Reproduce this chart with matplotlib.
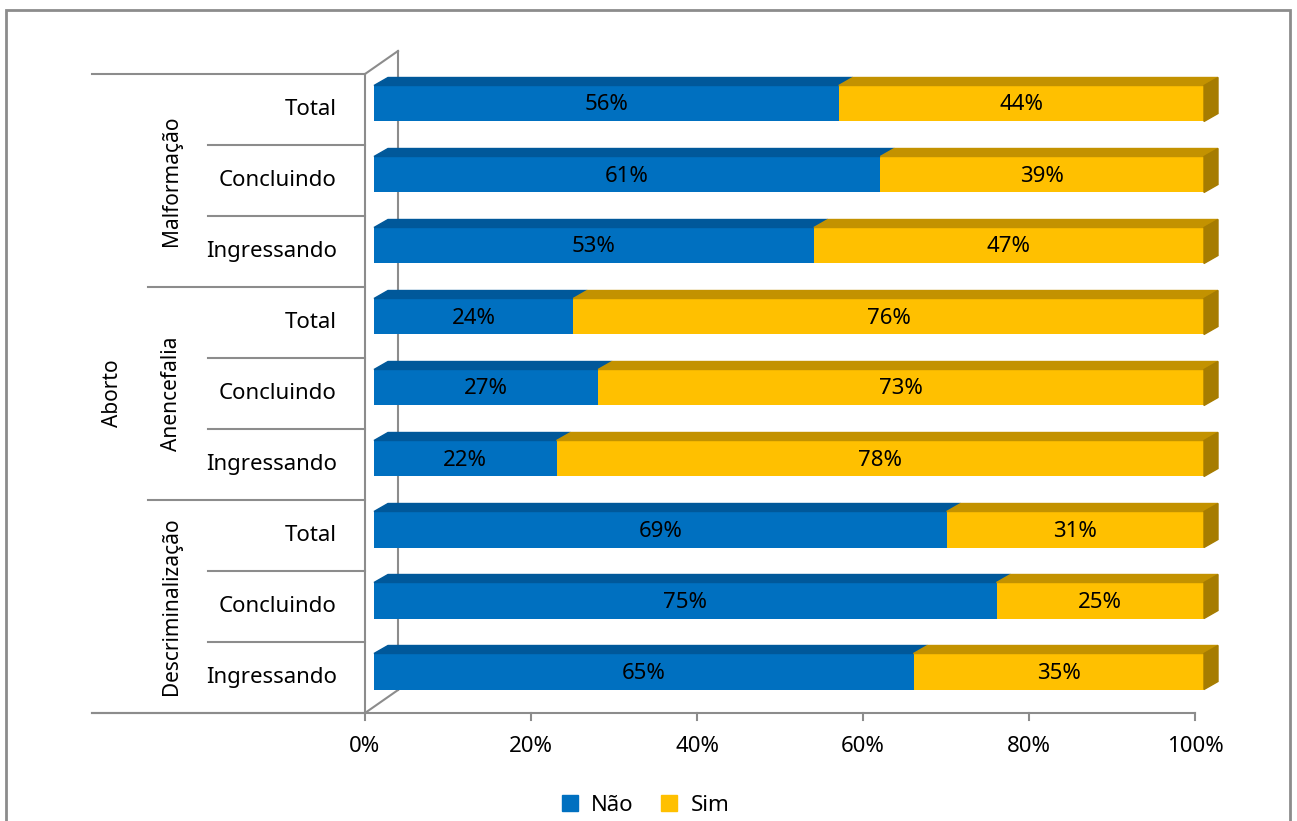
import matplotlib.pyplot as plt
from matplotlib.patches import Polygon, Rectangle
from matplotlib.lines import Line2D

# dados (de baixo para cima)
grupos = ["Descriminalização", "Anencefalia", "Malformação"]
subgrupos = ["Ingressando", "Concluindo", "Total"]
nao = [65, 75, 69, 22, 27, 24, 53, 61, 56]
sim = [35, 25, 31, 78, 73, 76, 47, 39, 44]
ticks = [0, 20, 40, 60, 80, 100]

azul = "#0070C0"
azul_topo = "#00589A"
amarelo = "#FFC000"
amarelo_topo = "#C39200"
amarelo_lado = "#A67C00"
cinza = "#8C8C8C"

plt.rcParams['font.family'] = ['Noto Sans', 'DejaVu Sans']
fs = 16

W, H = 1297, 821
fig = plt.figure(figsize=(W / 100, H / 100), dpi=100)
ax = fig.add_axes([365 / W, (H - 713) / H, 830 / W, 639 / H])
ax.set_xlim(0, 100)
ax.set_ylim(-0.5, 8.5)
ax.axis('off')

# conversao pixel -> unidades de dados
px_x = 100 / 830
px_y = 9 / 639

# parede do fundo (efeito 3D)
Dx, Dy = 33 * px_x, 23 * px_y
ax.plot([0, Dx], [8.5, 8.5 + Dy], color=cinza, lw=1.5, clip_on=False)
ax.plot([Dx, Dx], [8.5 + Dy, -0.5 + Dy], color=cinza, lw=1.5, clip_on=False)
ax.plot([0, Dx], [-0.5, -0.5 + Dy], color=cinza, lw=1.5, clip_on=False)

# barras 3D
off_x, off_y = 9 * px_x, 6 * px_y
dx, dy = 14 * px_x, 8 * px_y
h = 36 * px_y
ys = list(range(len(nao)))
ax.barh([y + off_y for y in ys], nao, height=h, left=off_x, color=azul, zorder=3,
        clip_on=False)
ax.barh([y + off_y for y in ys], sim, height=h, left=[off_x + v for v in nao],
        color=amarelo, zorder=3, clip_on=False)

for y, n, s in zip(ys, nao, sim):
    yt = y + off_y + h / 2
    yb = y + off_y - h / 2
    x0, x1, x2 = off_x, off_x + n, off_x + n + s
    ax.add_patch(Polygon([(x0, yt), (x1, yt), (x1 + dx, yt + dy), (x0 + dx, yt + dy)],
                         closed=True, color=azul_topo, zorder=3, clip_on=False))
    ax.add_patch(Polygon([(x1, yt), (x2, yt), (x2 + dx, yt + dy), (x1 + dx, yt + dy)],
                         closed=True, color=amarelo_topo, zorder=3, clip_on=False))
    ax.add_patch(Polygon([(x2, yb), (x2, yt), (x2 + dx, yt + dy), (x2 + dx, yb + dy)],
                         closed=True, color=amarelo_lado, zorder=3, clip_on=False))
    ax.text(x0 + n / 2, y + off_y - 1.5 * px_y, f"{n}%", ha='center', va='center',
            fontsize=fs, zorder=4)
    ax.text(x1 + s / 2, y + off_y - 1.5 * px_y, f"{s}%", ha='center', va='center',
            fontsize=fs, zorder=4)

# eixos da frente
ax.plot([0, 0], [-0.5, 8.5], color=cinza, lw=1.5, clip_on=False)
ax.plot([(92 - 365) * px_x, 100], [-0.5, -0.5], color=cinza, lw=1.5, clip_on=False)
for t in ticks:
    ax.plot([t, t], [-0.5, -0.5 - 7 * px_y], color=cinza, lw=1.5, clip_on=False)
    ax.text(t, -0.5 - 33 * px_y, f"{t}%", ha='center', va='center', fontsize=fs)

# separadores das categorias
for b in [-0.5 + k for k in range(10)]:
    if b in (-0.5, 8.5):
        xs = 92
    elif b in (2.5, 5.5):
        xs = 148
    else:
        xs = 208
    ax.plot([(xs - 365) * px_x, 0], [b, b], color=cinza, lw=1.5, clip_on=False)

# rotulos
for y in ys:
    ax.text((337 - 365) * px_x, y, subgrupos[y % 3], ha='right', va='center', fontsize=fs)
for i, g in enumerate(grupos):
    ax.text((172 - 365) * px_x, 3 * i + 1, g, ha='center', va='center', rotation=90,
            fontsize=15)
ax.text((112 - 365) * px_x, 4, "Aborto", ha='center', va='center', rotation=90, fontsize=15)

# legenda
handles = [Line2D([], [], marker='s', ls='', color=azul, markersize=11, label="Não"),
           Line2D([], [], marker='s', ls='', color=amarelo, markersize=11, label="Sim")]
fig.legend(handles=handles, loc='center', bbox_to_anchor=(643 / W, (H - 805) / H), ncol=2,
           frameon=False, fontsize=fs, handletextpad=0.35, columnspacing=1.0,
           handlelength=1.2)

# moldura
fig.patches.append(Rectangle((6 / W, -0.02), (1290 - 6) / W, 1.02 - 10 / H,
                             transform=fig.transFigure, fill=False, ec=cinza, lw=2))

fig.savefig("out.png", dpi=100)
